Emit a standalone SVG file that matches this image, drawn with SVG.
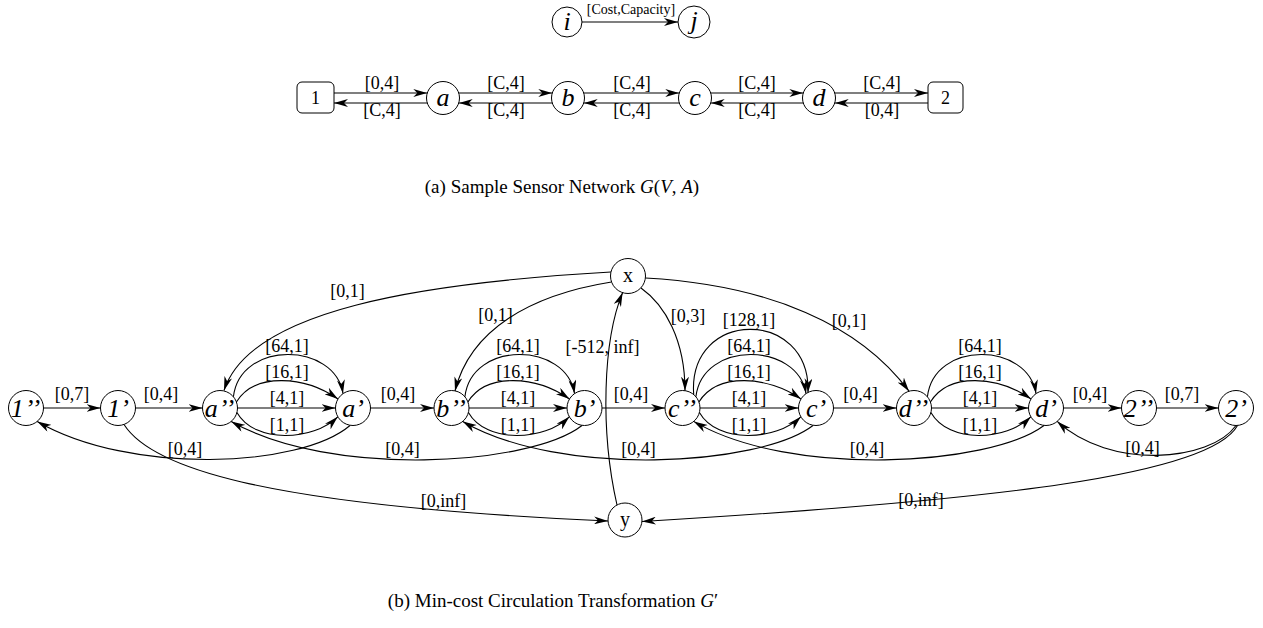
<svg xmlns="http://www.w3.org/2000/svg" width="1263" height="628" viewBox="0 0 1263 628">
  <style>
    .nd { fill: #fff; stroke: #000; stroke-width: 1; }
    .e { fill: none; stroke: #000; stroke-width: 1.1; marker-end: url(#ah); }
    .t { font-family: "Liberation Serif", "Times New Roman", serif; fill: #000; text-anchor: middle; }
    .lb { font-size: 18px; }
    .it { font-style: italic; font-size: 26px; }
    .pp { letter-spacing: 1px; }
    .up { font-size: 20px; }
    .cap { font-size: 19px; }
  </style>
  <defs>
    <marker id="ah" markerUnits="userSpaceOnUse" viewBox="0 0 14 8" markerWidth="14" markerHeight="8" refX="14" refY="4" orient="auto">
      <path d="M0,0 L14,4 L0,8 L4,4 Z" fill="#000"/>
    </marker>
  </defs>
  <rect width="1263" height="628" fill="#fff"/>

  <!-- legend: i -> j -->
  <g id="legend">
    <circle class="nd" cx="567" cy="22" r="15"/>
    <text class="t it" x="567" y="30" font-size="23">i</text>
    <circle class="nd" cx="694" cy="22" r="16"/>
    <text class="t it" x="694" y="29" font-size="23">j</text>
    <path class="e" d="M582,22 L678,22"/>
    <text class="t" x="631" y="14" font-size="14">[Cost,Capacity]</text>
  </g>

  <!-- sensor network nodes -->
  <g id="n1"><rect class="nd" x="297" y="82" width="37" height="31" rx="5"/><text class="t" x="315.5" y="104" font-size="18">1</text></g>
  <g id="na"><circle class="nd" cx="443" cy="98" r="16.5"/><text class="t it" x="443" y="106">a</text></g>
  <g id="nb"><circle class="nd" cx="568" cy="98" r="16.5"/><text class="t it" x="568" y="106">b</text></g>
  <g id="nc"><circle class="nd" cx="695" cy="98" r="16.5"/><text class="t it" x="695" y="106">c</text></g>
  <g id="nd"><circle class="nd" cx="819" cy="98" r="16.5"/><text class="t it" x="819" y="106">d</text></g>
  <g id="n2"><rect class="nd" x="928" y="82" width="35" height="31" rx="5"/><text class="t" x="945.5" y="104" font-size="18">2</text></g>

  <g id="net-edges">
    <path class="e" d="M334,93 L427.3,93"/>
    <path class="e" d="M427.3,103 L334,103"/>
    <path class="e" d="M458.7,93 L552.3,93"/>
    <path class="e" d="M552.3,103 L458.7,103"/>
    <path class="e" d="M583.7,93 L679.3,93"/>
    <path class="e" d="M679.3,103 L583.7,103"/>
    <path class="e" d="M710.7,93 L803.3,93"/>
    <path class="e" d="M803.3,103 L710.7,103"/>
    <path class="e" d="M834.7,93 L928,93"/>
    <path class="e" d="M928,103 L834.7,103"/>
    <g class="t lb">
      <text x="382" y="89">[0,4]</text><text x="382" y="116">[C,4]</text>
      <text x="506" y="89">[C,4]</text><text x="506" y="116">[C,4]</text>
      <text x="632" y="89">[C,4]</text><text x="632" y="116">[C,4]</text>
      <text x="757" y="89">[C,4]</text><text x="757" y="116">[C,4]</text>
      <text x="882" y="89">[C,4]</text><text x="882" y="116">[0,4]</text>
    </g>
  </g>

  <text class="t cap" x="562" y="193">(a) Sample Sensor Network <tspan font-style="italic">G</tspan>(<tspan font-style="italic">V</tspan>, <tspan font-style="italic">A</tspan>)</text>

  <!-- circulation graph nodes -->
  <g id="v1pp"><circle class="nd" cx="26" cy="408" r="17.5"/><text class="t it pp" x="26" y="417">1’’</text></g>
  <g id="v1p"><circle class="nd" cx="118" cy="408" r="17.5"/><text class="t it" x="118" y="417">1’</text></g>
  <g id="vapp"><circle class="nd" cx="220" cy="408" r="17.5"/><text class="t it pp" x="220" y="417">a’’</text></g>
  <g id="vap"><circle class="nd" cx="353" cy="408" r="17.5"/><text class="t it" x="353" y="417">a’</text></g>
  <g id="vbpp"><circle class="nd" cx="451.5" cy="408" r="17.5"/><text class="t it pp" x="451.5" y="417">b’’</text></g>
  <g id="vbp"><circle class="nd" cx="584.5" cy="408" r="17.5"/><text class="t it" x="584.5" y="417">b’</text></g>
  <g id="vcpp"><circle class="nd" cx="682.5" cy="408" r="17.5"/><text class="t it pp" x="682.5" y="417">c’’</text></g>
  <g id="vcp"><circle class="nd" cx="816" cy="408" r="17.5"/><text class="t it" x="816" y="417">c’</text></g>
  <g id="vdpp"><circle class="nd" cx="914" cy="408" r="17.5"/><text class="t it pp" x="914" y="417">d’’</text></g>
  <g id="vdp"><circle class="nd" cx="1046" cy="408" r="17.5"/><text class="t it" x="1046" y="417">d’</text></g>
  <g id="v2pp"><circle class="nd" cx="1139" cy="408" r="17.5"/><text class="t it pp" x="1139" y="417">2’’</text></g>
  <g id="v2p"><circle class="nd" cx="1236" cy="408" r="17.5"/><text class="t it" x="1236" y="417">2’</text></g>
  <g id="vx"><circle class="nd" cx="628" cy="276" r="17.5"/><text class="t up" x="628" y="282">x</text></g>
  <g id="vy"><circle class="nd" cx="625" cy="520" r="17"/><text class="t up" x="625" y="526">y</text></g>

  <g id="edges">
    <!-- straight chain -->
    <path class="e" d="M43.5,408 L100.5,408"/>
    <path class="e" d="M135.5,408 L202.5,408"/>
    <path class="e" d="M370.5,408 L434,408"/>
    <path class="e" d="M602,408 L665,408"/>
    <path class="e" d="M833.5,408 L896.5,408"/>
    <path class="e" d="M1063.5,408 L1121.5,408"/>
    <path class="e" d="M1156.5,408 L1218.5,408"/>

    <!-- a'' to a' -->
    <path class="e" d="M233.4,396.8 C240,340 335,342 343,393.6"/>
    <path class="e" d="M236.4,402 C255,372 305,376 338,399"/>
    <path class="e" d="M237.5,408 L335.5,408"/>
    <path class="e" d="M236.9,412.5 C255,444 313,441 337.8,416.8"/>
    <!-- b'' to b' -->
    <path class="e" d="M464.9,396.8 C471.5,340 566.5,342 574.5,393.6"/>
    <path class="e" d="M467.9,402 C486.5,372 536.5,376 569.5,399"/>
    <path class="e" d="M469,408 L567,408"/>
    <path class="e" d="M468.4,412.5 C486.5,444 544.5,441 569.3,416.8"/>
    <!-- c'' to c' -->
    <path class="e" d="M693.7,394.6 C687.5,308 811,308 808,392.4"/>
    <path class="e" d="M695.9,396.8 C702.5,340 798,342 806,393.6"/>
    <path class="e" d="M698.9,402 C717.5,372 768,376 801,399"/>
    <path class="e" d="M700,408 L798.5,408"/>
    <path class="e" d="M699.4,412.5 C717.5,444 776,441 800.8,416.8"/>
    <!-- d'' to d' -->
    <path class="e" d="M927.4,396.8 C934,340 1028,342 1036,393.6"/>
    <path class="e" d="M930.4,402 C949,372 998,376 1031,399"/>
    <path class="e" d="M931.5,408 L1028.5,408"/>
    <path class="e" d="M930.9,412.5 C949,444 1006,441 1030.8,416.8"/>

    <!-- from x -->
    <path class="e" d="M611,272 C420,283 250,310 224,390.5"/>
    <path class="e" d="M611.5,282 C530,295 470,330 455,391"/>
    <path class="e" d="M641,288 C665,305 685,340 685,390.7"/>
    <path class="e" d="M645.5,278 C770,285 860,325 909,391.2"/>
    <!-- y to x -->
    <path class="e" d="M617,505 C600,430 603,340 622.6,292.6"/>

    <!-- return arcs -->
    <path class="e" d="M350,425.5 C300,468 130,475 37.2,421.4"/>
    <path class="e" d="M582,425.5 C530,466 330,478 231.2,421.4"/>
    <path class="e" d="M813,425.5 C760,466 560,478 462.7,421.4"/>
    <path class="e" d="M1044,425.5 C990,466 790,478 693.7,421.4"/>
    <path class="e" d="M1236,425.5 C1210,462 1110,470 1057.2,421.4"/>
    <!-- to y -->
    <path class="e" d="M124,424.5 C150,465 250,505 608,521"/>
    <path class="e" d="M1237.5,425.5 C1210,475 1000,500 642,521.5"/>

    <g class="t lb">
      <text x="72" y="400">[0,7]</text>
      <text x="161" y="400">[0,4]</text>
      <text x="398" y="400">[0,4]</text>
      <text x="631" y="400">[0,4]</text>
      <text x="860.5" y="400">[0,4]</text>
      <text x="1090" y="400">[0,4]</text>
      <text x="1182" y="400">[0,7]</text>

      <text x="287" y="352">[64,1]</text>
      <text x="287" y="378">[16,1]</text>
      <text x="287" y="404">[4,1]</text>
      <text x="287" y="431">[1,1]</text>
      <text x="518" y="352">[64,1]</text>
      <text x="518" y="378">[16,1]</text>
      <text x="518" y="404">[4,1]</text>
      <text x="518" y="431">[1,1]</text>
      <text x="749" y="326">[128,1]</text>
      <text x="749" y="352">[64,1]</text>
      <text x="749" y="378">[16,1]</text>
      <text x="749" y="404">[4,1]</text>
      <text x="749" y="431">[1,1]</text>
      <text x="980" y="352">[64,1]</text>
      <text x="980" y="378">[16,1]</text>
      <text x="980" y="404">[4,1]</text>
      <text x="980" y="431">[1,1]</text>

      <text x="347.5" y="297">[0,1]</text>
      <text x="495.5" y="321">[0,1]</text>
      <text x="688" y="322">[0,3]</text>
      <text x="849" y="327">[0,1]</text>
      <text x="602.5" y="353">[-512, inf]</text>

      <text x="185" y="455">[0,4]</text>
      <text x="402.5" y="455">[0,4]</text>
      <text x="638.5" y="455">[0,4]</text>
      <text x="867" y="455">[0,4]</text>
      <text x="1142.5" y="454">[0,4]</text>
      <text x="443.5" y="507">[0,inf]</text>
      <text x="921" y="506">[0,inf]</text>
    </g>
  </g>

  <text class="t cap" x="553" y="607">(b) Min-cost Circulation Transformation <tspan font-style="italic">G</tspan>′</text>
</svg>
